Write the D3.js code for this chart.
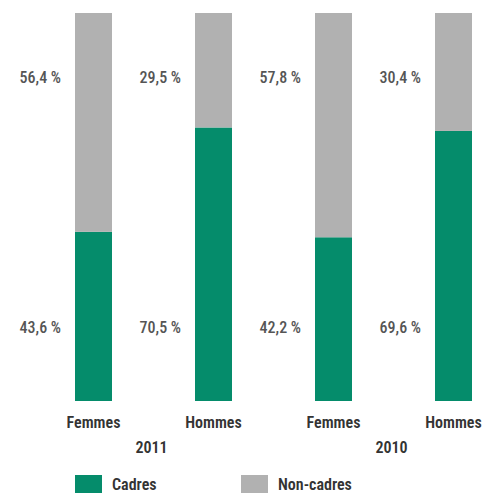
<!DOCTYPE html>
<html>
<head>
<meta charset="utf-8">
<script src="https://cdn.jsdelivr.net/npm/d3@7"></script>
<style>
  body { margin: 0; background: #fff; }
  svg text { font-family: "Liberation Sans Narrow", "Roboto Condensed", "DejaVu Sans Condensed", "Arial Narrow", sans-serif; }
  .pct { font-weight: 500; }
  .cat { font-weight: 600; }
</style>
</head>
<body>
<div id="chart"></div>
<script>
// données
var keys = ["F2011", "H2011", "F2010", "H2010"];
var genres = ["Femmes", "Hommes", "Femmes", "Hommes"];
var annees = ["2011", "2011", "2010", "2010"];
var cadres = [43.6, 70.5, 42.2, 69.6];
var nonCadres = [56.4, 29.5, 57.8, 30.4];
var legende = ["Cadres", "Non-cadres"];

var width = 486, height = 493;
var vert = "#058c6b", gris = "#b1b1b1";

var svg = d3.select("#chart").append("svg")
  .attr("width", width)
  .attr("height", height);

// échelles
var x = d3.scaleBand()
  .domain(keys)
  .range([75, 472])
  .paddingInner(83 / 120)
  .paddingOuter(0);

var y = d3.scaleLinear()
  .domain([0, 100])
  .range([401, 13]);

var data = keys.map(function(k, i) {
  return { key: k, genre: genres[i], annee: annees[i], cadres: cadres[i], nonCadres: nonCadres[i] };
});

var stack = d3.stack().keys(["cadres", "nonCadres"]);
var series = stack(data);
var couleurs = d3.scaleOrdinal().domain(["cadres", "nonCadres"]).range([vert, gris]);

// barres empilées
svg.selectAll(".serie")
  .data(series)
  .enter().append("g")
  .attr("class", "serie")
  .attr("fill", function(s) { return couleurs(s.key); })
  .selectAll("rect")
  .data(function(s) { return s; })
  .enter().append("rect")
  .attr("x", function(d) { return x(d.data.key); })
  .attr("y", function(d) { return y(d[1]); })
  .attr("width", x.bandwidth())
  .attr("height", function(d) { return y(d[0]) - y(d[1]); });

var fmt = function(v) { return d3.format(".1f")(v).replace(".", ",") + " %"; };

// étiquettes de pourcentage (haut = non-cadres, bas = cadres)
svg.selectAll(".lblHaut")
  .data(data)
  .enter().append("text")
  .attr("class", "pct")
  .attr("x", function(d) { return x(d.key) - 14; })
  .attr("y", 77)
  .attr("dy", "0.35em")
  .attr("text-anchor", "end")
  .attr("font-size", "16px")
  .attr("fill", "#555")
  .text(function(d) { return fmt(d.nonCadres); });

svg.selectAll(".lblBas")
  .data(data)
  .enter().append("text")
  .attr("class", "pct")
  .attr("x", function(d) { return x(d.key) - 14; })
  .attr("y", 327)
  .attr("dy", "0.35em")
  .attr("text-anchor", "end")
  .attr("font-size", "16px")
  .attr("fill", "#555")
  .text(function(d) { return fmt(d.cadres); });

// axe des catégories
svg.selectAll(".genre")
  .data(data)
  .enter().append("text")
  .attr("class", "cat")
  .attr("x", function(d) { return x(d.key) + x.bandwidth() / 2; })
  .attr("y", 422)
  .attr("dy", "0.35em")
  .attr("text-anchor", "middle")
  .attr("font-size", "16px")
  .attr("fill", "#333")
  .text(function(d) { return d.genre; });

var anneesUniques = ["2011", "2010"];
svg.selectAll(".annee")
  .data(anneesUniques)
  .enter().append("text")
  .attr("class", "cat")
  .attr("x", function(a) {
    var ks = data.filter(function(d) { return d.annee === a; }).map(function(d) { return x(d.key) + x.bandwidth() / 2; });
    return d3.mean(ks) - 2;
  })
  .attr("y", 447)
  .attr("dy", "0.35em")
  .attr("text-anchor", "middle")
  .attr("font-size", "16px")
  .attr("fill", "#333")
  .text(function(a) { return a; });

// légende
var leg = svg.selectAll(".leg")
  .data(legende)
  .enter().append("g")
  .attr("transform", function(d, i) { return "translate(" + (i === 0 ? 75 : 241) + ",475)"; });

leg.append("rect")
  .attr("width", 27)
  .attr("height", 18)
  .attr("fill", function(d, i) { return i === 0 ? vert : gris; });

leg.append("text")
  .attr("class", "cat")
  .attr("x", 37)
  .attr("y", 9)
  .attr("dy", "0.35em")
  .attr("font-size", "16px")
  .attr("fill", "#333")
  .text(function(d) { return d; });
</script>
</body>
</html>
